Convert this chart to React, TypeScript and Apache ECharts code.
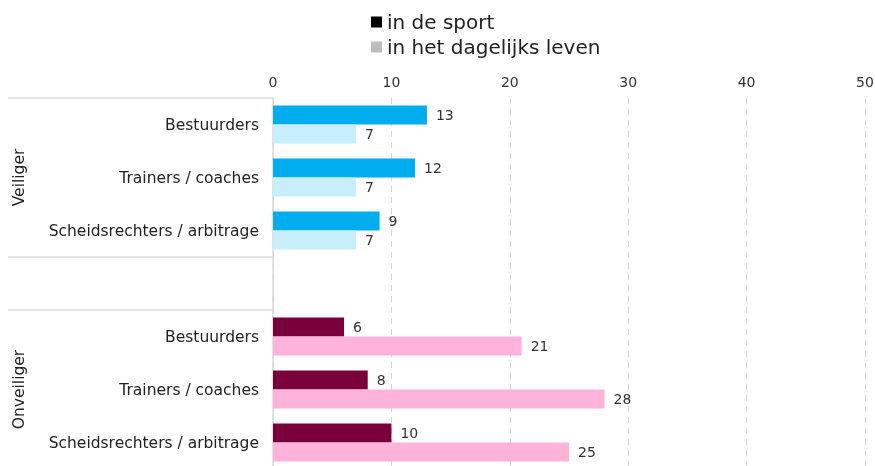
import React, { useEffect, useRef } from "react";
import * as echarts from "echarts";

const categories = [
  "Bestuurders",
  "Trainers / coaches",
  "Scheidsrechters / arbitrage",
  "",
  "Bestuurders",
  "Trainers / coaches",
  "Scheidsrechters / arbitrage",
];
const groupLabels = ["", "Veiliger", "", "", "", "Onveiliger", ""];
const sportValues: (number | null)[] = [13, 12, 9, null, 6, 8, 10];
const dailyValues: (number | null)[] = [7, 7, 7, null, 21, 28, 25];
const sportColors = ["#00AEEF", "#00AEEF", "#00AEEF", "", "#7A003C", "#7A003C", "#7A003C"];
const dailyColors = ["#C6EEFC", "#C6EEFC", "#C6EEFC", "", "#FFB3DB", "#FFB3DB", "#FFB3DB"];
const xTicks = [0, 10, 20, 30, 40, 50];

const FONT = "DejaVu Sans";

export default function App() {
  const ref = useRef<HTMLDivElement>(null);
  useEffect(() => {
    if (!ref.current) return;
    const chart = echarts.init(ref.current, null, { renderer: "svg" });
    const label = {
      show: true,
      position: "right" as const,
      distance: 9,
      fontFamily: FONT,
      fontSize: 14,
      color: "#333",
    };
    chart.setOption({
      animation: false,
      textStyle: { fontFamily: FONT },
      legend: {
        orient: "vertical",
        left: 366,
        top: 7,
        itemWidth: 11,
        itemHeight: 11,
        itemGap: 5,
        icon: "rect",
        textStyle: { fontFamily: FONT, fontSize: 20, color: "#222" },
        data: [
          { name: "in de sport", itemStyle: { color: "#000" } },
          { name: "in het dagelijks leven", itemStyle: { color: "#bdbdbd" } },
        ],
      },
      grid: {
        left: 273,
        right: 10,
        top: 98,
        height: 371,
        containLabel: false,
        outerBoundsMode: "none",
      },
      xAxis: {
        type: "value",
        position: "top",
        min: 0,
        max: 50,
        interval: 10,
        axisLine: { show: false },
        axisTick: { show: false },
        axisLabel: {
          fontFamily: FONT,
          fontSize: 14,
          color: "#333",
          margin: 9,
          formatter: (v: number) => (xTicks.includes(v) ? String(v) : ""),
        },
        splitLine: {
          show: true,
          interval: (i: number) => i > 0,
          lineStyle: { type: [6, 5], color: "#d4d4d4" },
        },
      },
      yAxis: [
        {
          type: "category",
          inverse: true,
          data: categories,
          axisLine: { show: true, lineStyle: { color: "#d9d9d9", width: 1.5 } },
          axisTick: { show: false },
          axisLabel: { fontFamily: FONT, fontSize: 15.5, color: "#222", margin: 14 },
        },
        {
          type: "category",
          inverse: true,
          position: "left",
          data: groupLabels,
          axisLine: { show: false },
          axisTick: {
            show: true,
            length: 265,
            interval: (i: number) => i === 0 || i === 3 || i === 4,
            lineStyle: { color: "#dcdcdc", width: 1.5 },
          },
          axisLabel: {
            fontFamily: FONT,
            fontSize: 15.5,
            color: "#222",
            rotate: 90,
            margin: 246,
            interval: 0,
          },
        },
      ],
      series: [
        {
          name: "in de sport",
          type: "bar",
          barWidth: 19,
          barGap: "0%",
          data: sportValues.map((v, i) => ({ value: v, itemStyle: { color: sportColors[i] } })),
          label,
        },
        {
          name: "in het dagelijks leven",
          type: "bar",
          barWidth: 19,
          barGap: "0%",
          data: dailyValues.map((v, i) => ({ value: v, itemStyle: { color: dailyColors[i] } })),
          label,
        },
      ],
    });
    return () => chart.dispose();
  }, []);
  return (
    <div
      ref={ref}
      style={{ position: "fixed", left: 0, top: 0, width: 875, height: 466 }}
    />
  );
}
